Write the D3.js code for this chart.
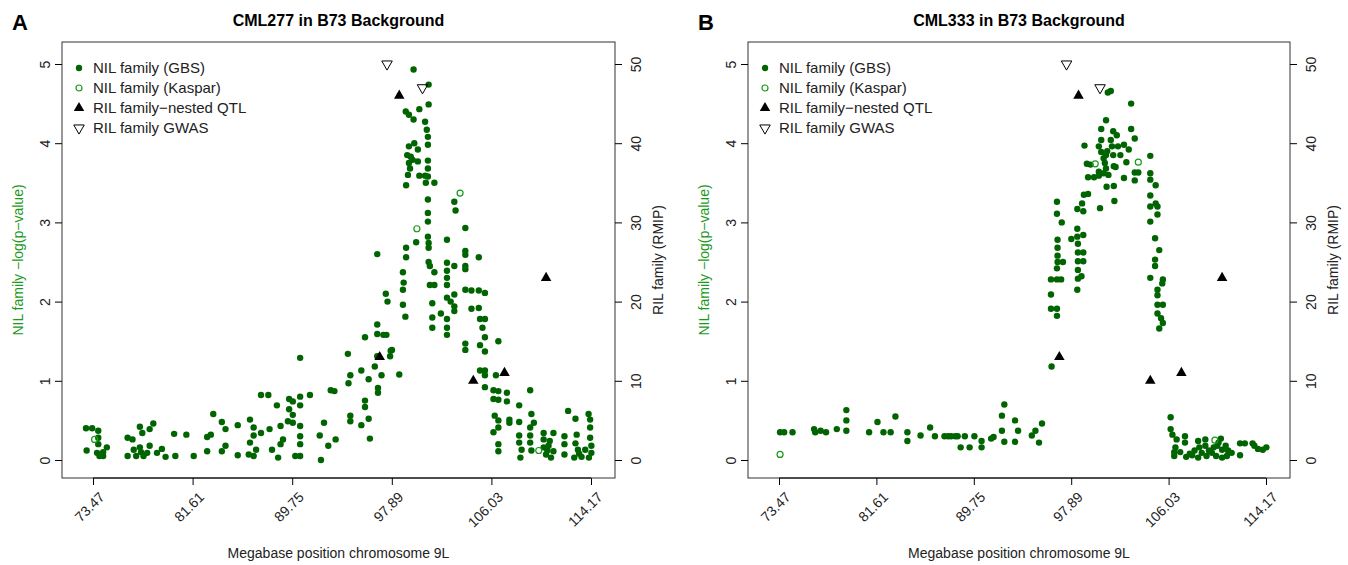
<!DOCTYPE html>
<html><head><meta charset="utf-8">
<script src="https://cdn.jsdelivr.net/npm/d3@7"></script>
<style>body{margin:0;background:#fff}text{font-family:"Liberation Sans",Arial,sans-serif}</style>
</head><body>
<svg width="1348" height="565"></svg>
<script>
const xTicks = [73.47, 81.61, 89.75, 97.89, 106.03, 114.17];
const yTicks = [0, 1, 2, 3, 4, 5];
const rTicks = [0, 10, 20, 30, 40, 50];
const legendLabels = ["NIL family (GBS)", "NIL family (Kaspar)", "RIL family\u2212nested QTL", "RIL family GWAS"];

// panel A: CML277
const gbsA = [[99.67,4.93],[100.9,4.74],[100.9,4.49],[100.14,4.43],[99.03,4.40],[99.29,4.36],[99.67,4.30],[100.61,4.27],
[100.75,4.17],[100.84,4.08],[100.84,3.98],[99.29,3.96],[99.73,4.0],[100.02,3.92],[99.15,3.85],[99.44,3.83],[99.29,3.75],
[99.59,3.79],[99.38,3.68],[99.21,3.60],[100.14,3.59],[100.61,3.59],[100.84,3.58],[100.84,3.68],[100.84,3.78],[100.02,3.77],
[101.37,3.50],[99.06,3.47],[100.67,3.50],[100.84,3.29],[100.84,3.12],[100.84,3.01],[100.84,2.82],[100.9,2.74],[100.9,2.68],
[100.9,2.50],[101.0,2.45],[101.37,2.37],[101.0,2.21],[101.37,2.21],[101.2,1.98],[101.2,1.80],[101.2,1.67],
[99.88,2.75],[99.06,2.68],[99.06,2.56],[98.8,2.37],[98.86,2.24],[98.8,2.15],[98.8,1.96],[99.0,1.81],[98.5,1.08],
[97.4,2.10],[97.54,2.0],[96.7,2.60],[96.7,1.71],[96.7,1.59],[97.2,1.58],[97.45,1.58],[97.8,1.38],[97.9,1.39],[97.75,1.31],
[96.7,1.31],[96.5,1.18],[97.05,1.07],[96.76,0.91],[96.76,0.85],[95.7,1.55],[96.0,1.02],[95.4,1.13],[94.3,1.34],[94.5,1.07],
[94.35,0.97],[95.7,0.75],[95.7,0.67],[96.0,0.52],[95.4,0.44],[96.1,0.27],[94.5,0.56],[94.5,0.49],[92.9,0.88],[93.2,0.87],
[90.4,1.29],[91.2,0.82],[90.4,0.80],[89.5,0.77],[89.8,0.74],[90.4,0.69],[88.5,0.69],[89.5,0.64],[89.8,0.57],[89.4,0.49],
[89.8,0.47],[90.4,0.43],[88.8,0.43],[87.2,0.82],[87.8,0.82],[92.35,0.47],[92.0,0.31],[92.1,0.0],[93.3,0.26],[92.7,0.18],
[90.4,0.30],[90.4,0.20],[90.4,0.05],[90.0,0.05],[89.0,0.26],[88.8,0.20],[88.6,0.03],[88.1,0.13],[87.9,0.39],[87.2,0.34],
[86.6,0.41],[86.6,0.31],[86.3,0.51],[86.3,0.22],[86.8,0.13],[86.6,0.05],[86.2,0.07],[85.3,0.44],[85.3,0.06],[84.3,0.39],
[84.3,0.18],[84.0,0.48],[84.0,0.11],[83.3,0.58],[83.1,0.32],[82.8,0.29],[82.8,0.11],[81.7,0.05],[81.1,0.32],[80.2,0.05],
[80.1,0.33],[79.4,0.04],[79.1,0.14],[78.7,0.09],[78.4,0.46],[78.1,0.39],[78.1,0.18],[77.9,0.09],[77.6,0.05],[77.3,0.16],
[77.3,0.42],[77.5,0.34],[76.8,0.13],[76.7,0.26],[76.3,0.28],[76.3,0.05],[74.6,0.16],[74.3,0.05],[74.3,0.1],[73.9,0.37],
[73.9,0.28],[73.9,0.20],[73.8,0.09],[73.4,0.40],[72.9,0.40],[72.95,0.12],[77.0,0.05],[77.4,0.1],[74.0,0.05],
[102.4,2.78],[103.0,3.26],[103.1,3.15],[103.9,2.93],[103.9,2.64],[103.9,2.59],[103.9,2.45],[103.9,2.41],[105.0,2.56],
[102.4,2.49],[102.4,2.39],[102.4,2.30],[102.4,2.21],[103.0,2.45],[103.0,2.09],[103.0,1.94],[103.0,1.88],[102.4,2.05],
[102.7,2.0],[101.9,1.85],[102.4,1.78],[102.4,1.67],[102.4,1.58],[103.9,2.15],[104.4,2.14],[105.0,2.14],[105.5,2.11],
[104.4,1.91],[105.0,1.92],[105.1,1.78],[105.5,1.78],[105.3,1.67],[105.5,1.55],[103.9,1.47],[103.9,1.39],[105.1,1.45],
[105.5,1.37],[106.6,1.50],[105.1,1.13],[105.5,1.13],[105.5,1.07],[106.4,1.07],[105.5,0.92],[106.2,0.88],[106.6,0.87],
[107.3,0.85],[106.2,0.77],[106.6,0.76],[107.3,0.74],[108.3,0.69],[109.2,0.88],[106.3,0.56],[106.6,0.50],[107.5,0.51],
[107.5,0.47],[106.6,0.41],[108.3,0.48],[109.3,0.58],[109.5,0.47],[109.2,0.41],[106.2,0.35],[106.6,0.20],[106.6,0.11],
[108.3,0.31],[108.3,0.22],[108.5,0.13],[108.4,0.03],[109.2,0.31],[109.2,0.22],[109.3,0.12],[110.3,0.34],[110.3,0.26],
[110.3,0.16],[110.8,0.24],[110.5,0.07],[110.9,0.03],[111.1,0.34],[111.1,0.11],[112.0,0.30],[112.0,0.20],[112.0,0.07],
[112.3,0.62],[112.9,0.52],[113.0,0.32],[112.9,0.21],[112.8,0.03],[113.1,0.13],[113.4,0.04],[113.97,0.58],[114.1,0.51],
[114.1,0.41],[114.1,0.28],[114.2,0.18],[114.2,0.09],[114.0,0.03],[113.7,0.13],[110.6,0.12],[110.7,0.18],[113.2,0.08]];
const kasparA = [[73.6,0.26],[103.47,3.37],[99.94,2.92],[109.9,0.12]];
const qtlA = [[98.5,46],[96.9,13],[104.55,10],[107.1,11],[110.5,23]];
const gwasA = [[97.5,50],[100.4,47]];

// panel B: CML333
const gbsB = [[73.56,0.35],[73.9,0.35],[74.6,0.35],[76.4,0.39],[76.5,0.35],[76.95,0.37],[77.4,0.35],[78.3,0.39],[79.1,0.63],
[79.1,0.50],[79.1,0.37],[81.0,0.35],[81.7,0.48],[82.2,0.35],[82.8,0.35],[83.2,0.55],[84.2,0.35],[84.2,0.24],[85.3,0.31],
[86.1,0.41],[86.5,0.30],[87.3,0.30],[87.6,0.30],[87.85,0.30],[88.2,0.30],[88.4,0.30],[89.0,0.30],[89.8,0.30],[88.65,0.16],
[89.4,0.16],[90.4,0.24],[90.4,0.16],[91.2,0.27],[91.4,0.29],[92.1,0.56],[92.3,0.70],[92.1,0.37],[92.3,0.23],[93.2,0.50],
[93.45,0.37],[93.2,0.23],[94.6,0.31],[94.9,0.37],[95.2,0.22],[95.45,0.46],
[96.25,1.18],[96.2,2.09],[96.2,1.91],[96.7,1.91],[96.7,1.82],[96.2,2.28],[96.7,2.28],[97.05,2.28],[96.7,2.42],[96.75,2.50],
[97.2,2.50],[96.75,2.58],[96.75,2.68],[96.75,2.78],[96.7,3.11],[96.7,3.26],[97.1,3.0],[97.9,2.79],[98.4,2.92],[98.4,2.82],
[98.45,2.73],[98.9,2.84],[98.45,2.62],[98.9,2.62],[98.45,2.51],[98.9,2.51],[98.45,2.40],[98.75,2.32],[98.45,2.29],[98.4,2.15],
[98.4,3.17],[98.8,3.24],[98.9,3.14],[98.95,3.35],[99.3,3.36],[99.0,3.97],[99.2,3.74],[99.5,3.73],[99.3,3.57],[99.8,3.57],
[100.2,3.64],[100.2,3.59],[100.4,4.04],[100.4,4.18],[100.2,3.96],[100.4,3.89],[100.6,3.81],[100.7,3.75],[100.8,4.29],
[100.8,3.85],[100.8,3.68],[100.85,3.45],[100.95,4.64],[101.2,4.66],[101.2,4.04],[101.3,3.96],[101.4,4.15],[101.4,3.85],
[101.45,3.71],[101.45,3.46],[101.5,3.27],[101.7,4.10],[101.8,3.96],[102.0,3.85],[102.3,3.98],[102.3,3.56],[102.5,3.76],
[102.7,3.92],[102.9,4.18],[102.9,4.5],[103.2,4.06],[103.2,3.63],[103.2,3.53],[103.5,3.63],[100.3,3.18],[100.9,3.9],
[101.0,3.6],[100.6,3.62],[101.6,3.7],[104.5,3.84],[104.5,3.62],[104.5,3.54],[104.95,3.47],[104.5,3.34],[104.5,3.20],
[104.95,3.24],[105.1,3.20],[105.1,3.10],[104.5,3.01],[104.9,2.80],[105.25,2.65],[104.9,2.53],[104.9,2.45],[104.5,2.30],
[105.55,2.28],[105.5,2.23],[105.1,2.15],[105.1,2.08],[105.1,1.96],[105.55,1.96],[105.1,1.85],[105.4,1.79],[105.55,1.73],
[105.25,1.66],
[106.2,0.54],[106.2,0.39],[106.35,0.32],[106.7,0.26],[106.6,0.16],[106.5,0.05],[106.5,0.1],[107.4,0.30],[107.4,0.22],[107.5,0.04],
[108.0,0.06],[108.5,0.24],[108.5,0.03],[108.8,0.09],[109.1,0.18],[109.1,0.26],[109.2,0.05],[109.65,0.09],[110.1,0.18],
[110.4,0.27],[110.5,0.13],[110.5,0.03],[110.8,0.18],[110.9,0.05],[111.3,0.09],[112.0,0.06],[112.0,0.21],[112.4,0.21],
[113.05,0.21],[113.2,0.18],[113.5,0.14],[113.9,0.13],[114.2,0.16],[107.8,0.08],[108.2,0.12],[109.4,0.12],[110.0,0.05],
[110.2,0.22],[111.0,0.12],[109.8,0.16],[108.6,0.16],[107.0,0.1]];
const kasparB = [[73.56,0.07],[99.9,3.74],[103.5,3.76],[109.9,0.25]];
const qtlB = [[98.5,46],[96.9,13],[104.5,10],[107.1,11],[110.5,23]];
const gwasB = [[97.5,50],[100.3,47]];

const svg = d3.select("svg");
const green = "#006400", kgreen = "#1a9a1a";

function drawPanel(left, right, letter, title, gbs, kaspar, qtl, gwas) {
  const top = 42, bottom = 478;
  const x = d3.scaleLinear().domain([73.47, 114.17]).range([left + 31, right - 24]);
  const y = d3.scaleLinear().domain([0, 5]).range([460, 64]);
  const yr = d3.scaleLinear().domain([0, 50]).range([460, 64]);
  const g = svg.append("g");

  g.append("rect").attr("x", left).attr("y", top).attr("width", right - left).attr("height", bottom - top)
    .attr("fill", "none").attr("stroke", "#333").attr("stroke-width", 1);

  const ax = g.append("g").attr("transform", `translate(0,${bottom})`)
    .call(d3.axisBottom(x).tickValues(xTicks).tickFormat(d3.format(".2f")).tickSize(7));
  ax.select(".domain").attr("d", `M${x(xTicks[0])},0H${x(xTicks[5])}`);
  ax.selectAll("text").attr("font-size", 14).attr("fill", "#222")
    .attr("transform", "rotate(-45)").attr("text-anchor", "end").attr("dx", "-0.4em").attr("dy", "0.9em");

  const ay = g.append("g").attr("transform", `translate(${left},0)`)
    .call(d3.axisLeft(y).tickValues(yTicks).tickFormat(d3.format("d")).tickSize(7));
  ay.select(".domain").remove();
  ay.selectAll(".tick text").attr("font-size", 14).attr("fill", "#222").each(function() {
    d3.select(this).attr("x", -17).attr("transform", "rotate(-90,-17,0)").attr("text-anchor", "middle").attr("dy", "0.35em");
  });

  const ar = g.append("g").attr("transform", `translate(${right},0)`)
    .call(d3.axisRight(yr).tickValues(rTicks).tickSize(7));
  ar.select(".domain").remove();
  ar.selectAll(".tick text").attr("font-size", 14).attr("fill", "#222").each(function() {
    d3.select(this).attr("x", 21).attr("transform", "rotate(-90,21,0)").attr("text-anchor", "middle").attr("dy", "0.35em");
  });

  g.append("text").attr("x", (left + right) / 2).attr("y", 26).attr("text-anchor", "middle")
    .attr("font-size", 16).attr("font-weight", "bold").text(title);
  g.append("text").attr("x", left - 50).attr("y", 30).attr("font-size", 22).attr("font-weight", "bold").text(letter);
  g.append("text").attr("x", (left + right) / 2).attr("y", 558).attr("text-anchor", "middle")
    .attr("font-size", 14).attr("fill", "#222").text("Megabase position chromosome 9L");
  g.append("text").attr("transform", `translate(${left - 39},${(top + bottom) / 2}) rotate(-90)`)
    .attr("text-anchor", "middle").attr("font-size", 14).attr("fill", "#1a9a1a").text("NIL family \u2212log(p\u2212value)");
  g.append("text").attr("transform", `translate(${right + 48},${(top + bottom) / 2}) rotate(-90)`)
    .attr("text-anchor", "middle").attr("font-size", 14).attr("fill", "#222").text("RIL family (RMIP)");

  g.append("g").selectAll("circle").data(gbs).join("circle")
    .attr("cx", d => x(d[0])).attr("cy", d => y(d[1])).attr("r", 3.2).attr("fill", green);
  g.append("g").selectAll("circle").data(kaspar).join("circle")
    .attr("cx", d => x(d[0])).attr("cy", d => y(d[1])).attr("r", 3).attr("fill", "none").attr("stroke", kgreen).attr("stroke-width", 1.2);
  const up = d3.symbol().type(d3.symbolTriangle).size(48);
  g.append("g").selectAll("path").data(qtl).join("path")
    .attr("d", up).attr("transform", d => `translate(${x(d[0])},${yr(d[1])})`).attr("fill", "#000");
  g.append("g").selectAll("path").data(gwas).join("path")
    .attr("d", up).attr("transform", d => `translate(${x(d[0])},${yr(d[1])}) rotate(180)`)
    .attr("fill", "none").attr("stroke", "#000").attr("stroke-width", 1);

  const lg = g.append("g").attr("transform", `translate(${left + 17},68)`);
  legendLabels.forEach((t, i) => {
    const yy = i * 20;
    if (i === 0) lg.append("circle").attr("cx", 0).attr("cy", yy).attr("r", 3.2).attr("fill", green);
    if (i === 1) lg.append("circle").attr("cx", 0).attr("cy", yy).attr("r", 3).attr("fill", "none").attr("stroke", kgreen).attr("stroke-width", 1.2);
    if (i === 2) lg.append("path").attr("d", up).attr("transform", `translate(0,${yy})`);
    if (i === 3) lg.append("path").attr("d", up).attr("transform", `translate(0,${yy}) rotate(180)`).attr("fill", "none").attr("stroke", "#000");
    lg.append("text").attr("x", 14).attr("y", yy).attr("dy", "0.35em").attr("font-size", 15).attr("fill", "#222").text(t);
  });
}

drawPanel(62, 615, "A", "CML277 in B73 Background", gbsA, kasparA, qtlA, gwasA);
drawPanel(748, 1290, "B", "CML333 in B73 Background", gbsB, kasparB, qtlB, gwasB);
</script>
</body></html>
